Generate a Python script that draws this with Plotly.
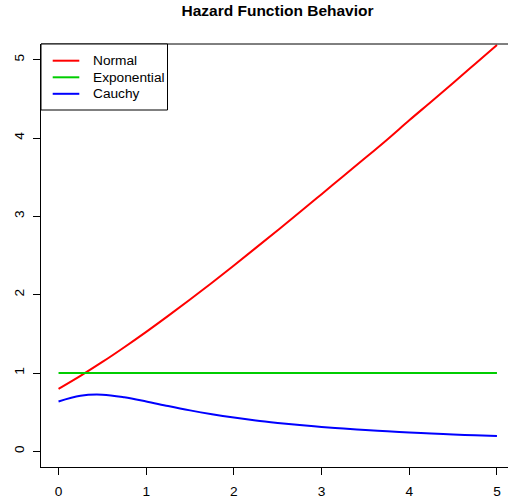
import plotly.graph_objects as go

x_vals = [0, 0.25, 0.5, 0.75, 1.0, 1.25, 1.5, 1.75, 2.0, 2.25, 2.5, 2.75,
          3.0, 3.25, 3.5, 3.75, 4.0, 4.25, 4.5, 4.75, 5.0]
normal_h = [0.798, 0.964, 1.141, 1.329, 1.525, 1.729, 1.939, 2.153, 2.373,
            2.597, 2.823, 3.051, 3.283, 3.515, 3.747, 3.982, 4.226, 4.463,
            4.703, 4.945, 5.187]
expo_h = [1.0] * len(x_vals)
cauchy_h = [0.637, 0.710, 0.723, 0.690, 0.637, 0.578, 0.523, 0.474, 0.431,
            0.394, 0.363, 0.335, 0.311, 0.290, 0.271, 0.255, 0.240, 0.227,
            0.215, 0.205, 0.195]

series_names = ["Normal", "Exponential", "Cauchy"]
series_colors = ["#FF0000", "#00CD00", "#0000FF"]
series_vals = [normal_h, expo_h, cauchy_h]

x_ticks = [0, 1, 2, 3, 4, 5]
y_ticks = [0, 1, 2, 3, 4, 5]

FONT = "Liberation Sans, Arial, Helvetica, sans-serif"
W, H = 508, 504
ML, MR, MT, MB = 41, 0, 44, 37
PW, PH = W - ML - MR, H - MT - MB


def px_x(p):
    return (p - ML) / PW


def px_y(p):
    return (H - MB - p) / PH


fig = go.Figure()
for name, col, vals in zip(series_names, series_colors, series_vals):
    fig.add_trace(go.Scatter(x=x_vals, y=vals, mode="lines", name=name,
                             line=dict(color=col, width=2, shape="spline"),
                             showlegend=False))

shapes = [
    # top frame line (box continues past the right edge of the picture)
    dict(type="line", xref="paper", yref="paper", x0=0, x1=1.1, y0=1, y1=1,
         line=dict(color="black", width=1)),
    # legend box
    dict(type="rect", xref="paper", yref="paper", x0=px_x(41), x1=px_x(167.5),
         y0=px_y(110), y1=px_y(44), line=dict(color="black", width=1),
         fillcolor="white", layer="above"),
]
annotations = []
row_y = [60.7, 77.3, 93.8]
for name, col, ry in zip(series_names, series_colors, row_y):
    shapes.append(dict(type="line", xref="paper", yref="paper",
                       x0=px_x(52.7), x1=px_x(79.3), y0=px_y(ry), y1=px_y(ry),
                       line=dict(color=col, width=2), layer="above"))
    annotations.append(dict(text=name, xref="paper", yref="paper",
                            x=px_x(90.5), y=px_y(ry), xanchor="left",
                            yanchor="middle", showarrow=False,
                            font=dict(size=13.7, family=FONT, color="black")))

fig.update_layout(
    width=W, height=H,
    margin=dict(l=ML, r=MR, t=MT, b=MB),
    paper_bgcolor="white", plot_bgcolor="white",
    font=dict(family=FONT, size=13.7, color="black"),
    title=dict(text="<b>Hazard Function Behavior</b>", x=px_x(277.5),
               xref="paper", xanchor="center", y=1 - 11 / H,
               yanchor="middle",
               font=dict(size=15.5, family=FONT, color="black")),
    showlegend=False,
    shapes=shapes,
    annotations=annotations,
)
fig.update_xaxes(range=[-0.2, 5.126], tickvals=x_ticks, ticks="outside",
                 ticklen=7, tickcolor="black", showgrid=False, zeroline=False,
                 showline=True, linecolor="black", linewidth=1, mirror=False,
                 ticklabelstandoff=5,
                 tickfont=dict(size=13.7, family=FONT))
fig.update_yaxes(range=[-0.2, 5.2], tickvals=y_ticks, ticks="outside",
                 ticklen=7, tickcolor="black", showgrid=False, zeroline=False,
                 showline=True, linecolor="black", linewidth=1,
                 tickangle=-90, ticklabelstandoff=4,
                 tickfont=dict(size=13.7, family=FONT))

fig.write_html("out.html")
